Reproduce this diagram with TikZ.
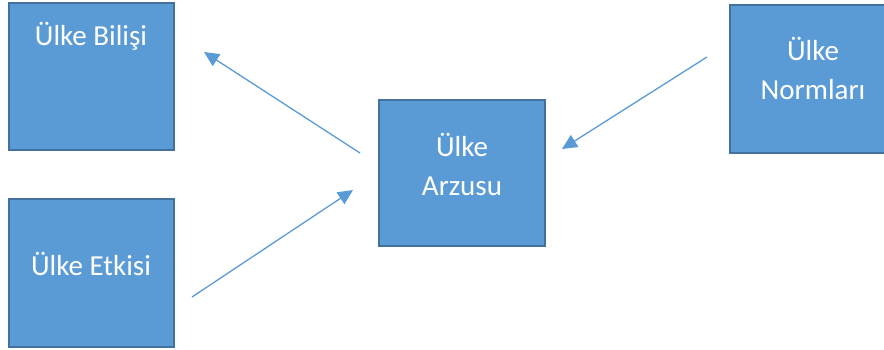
\documentclass[tikz,border=0pt]{standalone}
\usepackage{fontspec}
\setmainfont{Carlito}
\usetikzlibrary{arrows.meta}
\definecolor{boxfill}{HTML}{5B9BD5}
\definecolor{boxline}{HTML}{41719C}
\tikzset{
  concept/.style={draw=boxline, line width=2pt, fill=boxfill},
  caption/.style={text=white, font=\fontsize{29}{39}\selectfont,
    align=center, inner sep=0pt},
  link/.style={draw=boxfill, line width=1.3pt,
    -{Triangle[length=15pt,width=14pt]}}
}
\begin{document}
\begin{tikzpicture}[x=1pt,y=-1pt]
  \useasboundingbox (0,0) rectangle (884,349);
  \begin{scope}
    \clip (0,0) rectangle (884,349);
    % concept boxes
    \draw[concept] (9,3) rectangle (174,150);
    \node[caption] (bilis) at (91,36) {Ülke Bilişi};
    \draw[concept] (9,199) rectangle (174,347);
    \node[caption] (etki) at (91,264) {Ülke Etkisi};
    \draw[concept] (379,100) rectangle (545,246);
    \node[caption] (arzu) at (462,164) {Ülke\\Arzusu};
    \draw[concept] (730,5) rectangle (898,153);
    \node[caption] (norm) at (813,68) {Ülke\\Normları};
  \end{scope}
  % free ends of the connectors
  \coordinate (a1) at (360,153);
  \coordinate (a2) at (204,52);
  \coordinate (b1) at (192,297);
  \coordinate (b2) at (353,190);
  \coordinate (c1) at (707,57);
  \coordinate (c2) at (562,149);
  \draw[link] (a1) -- (a2);
  \draw[link] (b1) -- (b2);
  \draw[link] (c1) -- (c2);
\end{tikzpicture}
\end{document}
